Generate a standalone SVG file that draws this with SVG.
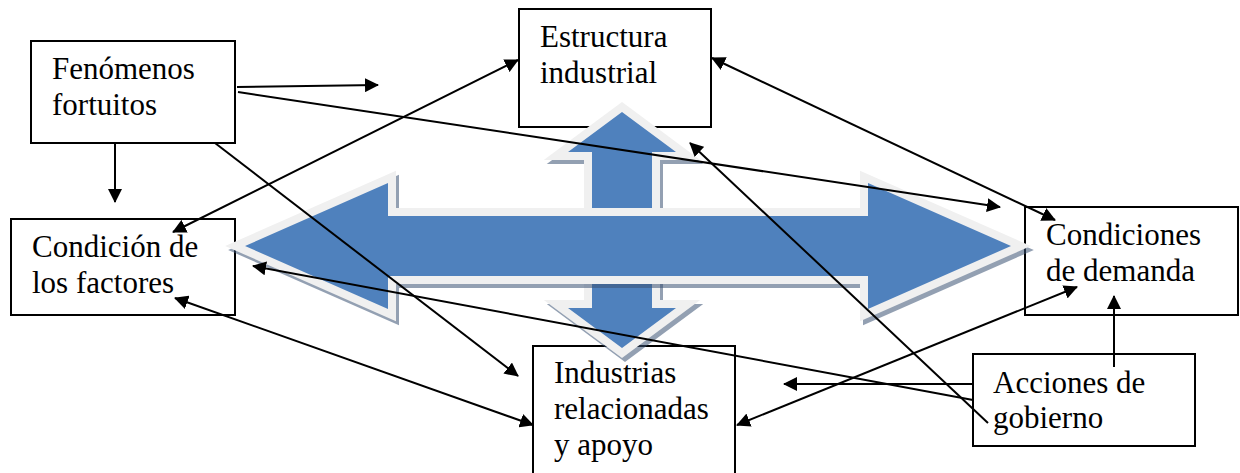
<svg xmlns="http://www.w3.org/2000/svg" width="1240" height="473" viewBox="0 0 1240 473">
<style>
.box{fill:#fff;stroke:#000;stroke-width:2}
.lbl{font-family:"Liberation Serif","Times New Roman",serif;font-size:31px;fill:#000}
.con{fill:none;stroke:#000;stroke-width:2}
.shadow{fill:#3b5375;stroke:#3b5375;stroke-width:16;stroke-linejoin:miter}
.rim{fill:#f2f2f2;stroke:#f0f0f0;stroke-width:16;stroke-linejoin:miter}
.blue{fill:#4f81bd;stroke:none}
</style>
<defs>
<marker id="ah" viewBox="0 0 14 14" refX="13" refY="7" markerWidth="14" markerHeight="14" markerUnits="userSpaceOnUse" orient="auto-start-reverse">
<path d="M0,0 L14,7 L0,14 Z" fill="#000"/>
</marker>
<path id="vArrow" d="M622,112 L676,152 L652,152 L652,308 L676,308 L622,348 L568,308 L592,308 L592,152 L568,152 Z"/>
<path id="hArrow" d="M245,246 L388,183 L388,216 L868,216 L868,183 L1011,246 L868,309 L868,276 L388,276 L388,309 Z"/>
</defs>

<g id="fenomenos">
<rect class="box" x="31" y="41" width="204" height="102"/>
<text class="lbl" x="52" y="79">Fenómenos</text>
<text class="lbl" x="52" y="115">fortuitos</text>
</g>
<g id="condicion-factores">
<rect class="box" x="11" y="219" width="224" height="96"/>
<text class="lbl" x="32" y="257">Condición de</text>
<text class="lbl" x="32" y="293">los factores</text>
</g>
<g id="estructura">
<rect class="box" x="519" y="9" width="192" height="118"/>
<text class="lbl" x="540" y="47">Estructura</text>
<text class="lbl" x="540" y="83">industrial</text>
</g>
<g id="condiciones-demanda">
<rect class="box" x="1025" y="207" width="213" height="108"/>
<text class="lbl" x="1046" y="245">Condiciones</text>
<text class="lbl" x="1046" y="281">de demanda</text>
</g>
<g id="industrias">
<rect class="box" x="533" y="346" width="202" height="132"/>
<text class="lbl" x="554" y="383">Industrias</text>
<text class="lbl" x="554" y="419">relacionadas</text>
<text class="lbl" x="554" y="455">y apoyo</text>
</g>
<g id="acciones-gobierno">
<rect class="box" x="973" y="354" width="222" height="92"/>
<text class="lbl" x="993" y="393">Acciones de</text>
<text class="lbl" x="993" y="428">gobierno</text>
</g>

<g id="central-arrow">
<g transform="translate(3,4)" opacity="0.55"><use href="#vArrow" class="shadow"/></g>
<use href="#vArrow" class="rim"/>
<use href="#vArrow" class="blue"/>
<g transform="translate(3,4)" opacity="0.55"><use href="#hArrow" class="shadow"/></g>
<use href="#hArrow" class="rim"/>
<use href="#hArrow" class="blue"/>
</g>

<g id="connectors">
<line class="con" x1="237" y1="87" x2="378" y2="85" marker-end="url(#ah)"/>
<line class="con" x1="115" y1="143" x2="115" y2="202" marker-end="url(#ah)"/>
<line class="con" x1="238" y1="92" x2="1000" y2="207" marker-end="url(#ah)"/>
<line class="con" x1="215" y1="143" x2="518" y2="376" marker-end="url(#ah)"/>
<line class="con" x1="173" y1="232" x2="518" y2="60" marker-start="url(#ah)" marker-end="url(#ah)"/>
<line class="con" x1="712" y1="58" x2="1055" y2="220" marker-start="url(#ah)" marker-end="url(#ah)"/>
<line class="con" x1="988" y1="423" x2="690" y2="143" marker-end="url(#ah)"/>
<line class="con" x1="973" y1="400" x2="253" y2="266" marker-end="url(#ah)"/>
<line class="con" x1="973" y1="384" x2="784" y2="384" marker-end="url(#ah)"/>
<line class="con" x1="1114" y1="367" x2="1114" y2="296" marker-end="url(#ah)"/>
<line class="con" x1="737" y1="425" x2="1077" y2="287" marker-start="url(#ah)" marker-end="url(#ah)"/>
<line class="con" x1="175" y1="298" x2="533" y2="425" marker-start="url(#ah)" marker-end="url(#ah)"/>
</g>
</svg>
